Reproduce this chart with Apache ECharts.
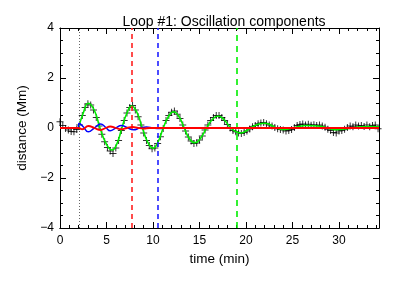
<!DOCTYPE html>
<html>
<head>
<meta charset="utf-8">
<script src="https://cdn.jsdelivr.net/npm/echarts@6/dist/echarts.min.js"></script>
<style>
  html, body { margin: 0; padding: 0; background: #fff; }
  #myChart { width: 399px; height: 285px; }
</style>
</head>
<body>
<div id="myChart"></div>
<script>
// observed loop displacement (crosses), one sample every obsStep minutes from 0
var obsStep = 0.3
var obsDist = [
  0.25, 0.1, -0.02, -0.08, -0.14, -0.15, -0.06, 0.12, 0.5, 0.82,
  0.97, 0.92, 0.72, 0.42, 0.08, -0.25, -0.55, -0.78, -0.92, -1.02,
  -0.8, -0.5, -0.1, 0.3, 0.6, 0.82, 0.9, 0.72, 0.45, 0.12,
  -0.2, -0.5, -0.7, -0.83, -0.8, -0.62, -0.35, -0.02, 0.3, 0.5,
  0.63, 0.68, 0.55, 0.38, 0.12, -0.12, -0.36, -0.52, -0.62, -0.6,
  -0.48, -0.32, -0.08, 0.12, 0.3, 0.42, 0.5, 0.5, 0.42, 0.3,
  0.14, 0.0, -0.1, -0.15, -0.2, -0.22, -0.18, -0.12, -0.04, 0.05,
  0.1, 0.17, 0.2, 0.22, 0.17, 0.12, 0.08, 0.02, -0.03, -0.06,
  -0.08, -0.12, -0.1, -0.06, 0.02, 0.1, 0.14, 0.16, 0.12, 0.15,
  0.11, 0.13, 0.1, 0.12, 0.08, 0.03, -0.05, -0.1, -0.18, -0.2,
  -0.12, -0.1, -0.05, 0.02, 0.08, 0.05, 0.12, 0.08, 0.1, 0.06,
  0.12, 0.05, 0.1, 0.12, -0.03
]

// fitted main oscillation (green)
var fitTime = [2.0, 2.5, 3.05, 3.7, 4.3, 5.0, 5.6, 6.15, 6.65, 7.2, 7.7, 8.3, 8.85, 9.45, 10.0, 10.55, 11.1, 11.65, 12.2, 12.8, 13.35, 13.9, 14.5, 15.1, 15.75, 16.35, 17.0, 17.65, 18.3, 18.9, 19.4, 20.0, 20.7, 21.4, 22.0, 22.6, 23.3, 24.2, 25.2, 26.5, 28.0, 29.0, 29.8, 30.8, 32.0, 33.0, 34.3]
var fitDist = [0, 0.6, 0.99, 0.7, 0, -0.65, -0.88, -0.6, 0, 0.6, 0.88, 0.6, 0, -0.58, -0.81, -0.55, 0, 0.45, 0.65, 0.45, 0, -0.42, -0.59, -0.42, 0, 0.33, 0.48, 0.33, 0.02, -0.15, -0.2, -0.12, 0.05, 0.16, 0.19, 0.13, 0.0, -0.06, 0.02, 0.1, 0.07, -0.03, -0.07, -0.03, 0.04, 0.06, 0.05]

// short period components (blue, red)
var blueTime = [0, 1.95, 2.05, 2.5, 3.05, 3.7, 4.37, 4.9, 5.4, 6.0, 6.6, 7.2, 7.9, 8.6, 9.3, 10.0, 10.7, 11.5, 13.0]
var blueDist = [0, 0, 0.19, 0.05, -0.15, 0.0, 0.16, 0.03, -0.11, 0.0, 0.1, 0.02, -0.07, 0.0, 0.04, 0.0, -0.02, 0, 0]
var redTime = [0, 2.0, 2.4, 3.05, 3.7, 4.37, 4.9, 5.4, 6.0, 6.6, 7.2, 7.8, 8.4, 9.0, 9.6, 34.3]
var redDist = [0, 0, -0.05, 0.08, 0, -0.08, 0, 0.06, 0, -0.05, 0, 0.04, 0, -0.02, 0, 0]

// vertical markers (min)
var markStart = 2.05
var markRed = 7.7
var markBlue = 10.5
var markGreen = 19.0

var xMax = 34.3
var xMajor = [0, 5, 10, 15, 20, 25, 30]
var xMinor = [1, 2, 3, 4, 6, 7, 8, 9, 11, 12, 13, 14, 16, 17, 18, 19, 21, 22, 23, 24, 26, 27, 28, 29, 31, 32, 33, 34]

function pairs(t, v) {
  var out = []
  for (var i = 0; i < t.length; i++) out.push([t[i], v[i]])
  return out
}
var obsData = []
for (var i = 0; i < obsDist.length; i++) obsData.push([+(i * obsStep).toFixed(2), obsDist[i]])

var font = 'Liberation Sans'
var black = '#000'

function xAx(pos, ticks, len, labels) {
  return {
    type: 'value', min: 0, max: xMax, position: pos,
    axisLine: { show: true, onZero: false, lineStyle: { color: black, width: 1 } },
    axisTick: { show: true, inside: true, length: len, customValues: ticks, lineStyle: { color: black } },
    axisLabel: { show: labels, customValues: ticks, color: black, fontSize: 12, fontFamily: font, margin: 7 },
    splitLine: { show: false }
  }
}
function yAx(pos, labels) {
  return {
    type: 'value', min: -4, max: 4, interval: 2, position: pos,
    axisLine: { show: true, onZero: false, lineStyle: { color: black, width: 1 } },
    axisTick: { show: true, inside: true, length: 6, lineStyle: { color: black } },
    minorTick: { show: true, splitNumber: 4, length: 3, lineStyle: { color: black } },
    axisLabel: { show: labels, color: black, fontSize: 12, fontFamily: font, margin: 6,
      formatter: function (v) { return String(v).replace('-', '\u2212') } },
    splitLine: { show: false }
  }
}

var xBottom = xAx('bottom', xMajor, 6, true)
xBottom.name = 'time (min)'
xBottom.nameLocation = 'middle'
xBottom.nameGap = 22
xBottom.nameTextStyle = { color: black, fontSize: 13.5, fontFamily: font }
var yLeft = yAx('left', true)
yLeft.name = 'distance (Mm)'
yLeft.nameLocation = 'middle'
yLeft.nameGap = 28
yLeft.nameTextStyle = { color: black, fontSize: 13.5, fontFamily: font }

function vline(x, color, dash, w) {
  return { xAxis: x, lineStyle: { color: color, type: dash, width: w }, itemStyle: { color: color } }
}

var myChart = echarts.init(document.getElementById('myChart'))
myChart.setOption({
  animation: false,
  backgroundColor: '#fff',
  title: {
    text: 'Loop #1: Oscillation components',
    left: 219, top: 10, textAlign: 'center',
    textStyle: { color: black, fontSize: 14, fontWeight: 'normal', fontFamily: font }
  },
  grid: { left: 60, right: 20, top: 28, bottom: 57 },
  xAxis: [xBottom, xAx('bottom', xMinor, 3, false), xAx('top', xMajor, 6, false), xAx('top', xMinor, 3, false)],
  yAxis: [yLeft, yAx('right', false)],
  series: [
    {
      type: 'scatter', data: obsData, symbol: 'path://M5,0V10M0,5H10', symbolSize: 7,
      itemStyle: { color: 'none', borderColor: black, borderWidth: 1 }, z: 2, silent: true
    },
    {
      type: 'line', data: [], z: 1, silent: true,
      markLine: {
        silent: true, symbol: 'none', label: { show: false },
        data: [
          vline(markStart, '#666666', [1, 2], 1),
          vline(markRed, '#ff2020', [5, 4], 1.6),
          vline(markBlue, '#2020ff', [5, 4], 1.6),
          vline(markGreen, '#00ee00', [6, 5], 1.6)
        ]
      }
    },
    { type: 'line', data: pairs(fitTime, fitDist), smooth: 0.5, showSymbol: false, lineStyle: { color: '#00ee00', width: 1.6 }, z: 3 },
    { type: 'line', data: pairs(blueTime, blueDist), smooth: 0.5, showSymbol: false, lineStyle: { color: '#0000ff', width: 1.5 }, z: 4 },
    { type: 'line', data: pairs(redTime, redDist), smooth: 0.5, showSymbol: false, lineStyle: { color: '#ff0000', width: 1.8 }, z: 5 }
  ]
})
</script>
</body>
</html>
